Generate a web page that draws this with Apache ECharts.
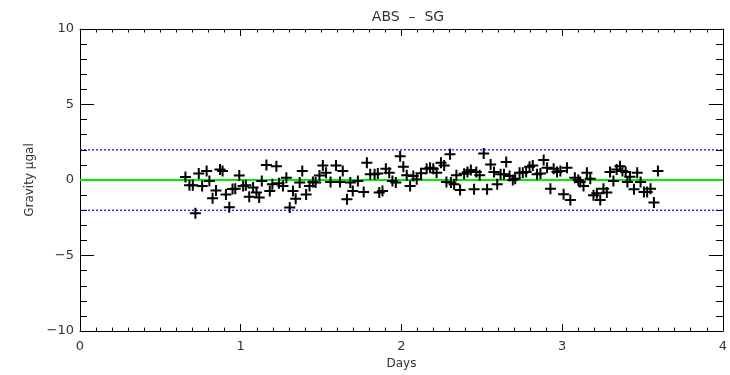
<!DOCTYPE html>
<html>
<head>
<meta charset="utf-8">
<script src="https://cdn.jsdelivr.net/npm/echarts@6/dist/echarts.min.js"></script>
<style>
  html, body { margin: 0; padding: 0; background: #fff; }
  #box { width: 730px; height: 375px; }
</style>
</head>
<body>
<div id="box"></div>
<script>
// ▼ data
const aDays = [
  0.656, 0.681, 0.702, 0.718, 0.739, 0.760, 0.788, 0.805, 0.825, 0.846, 0.871, 0.887,
  0.908, 0.929, 0.949, 0.966, 0.991, 1.015, 1.032, 1.053, 1.077, 1.098, 1.115, 1.131,
  1.160, 1.181, 1.197, 1.222, 1.238, 1.263, 1.284, 1.305, 1.325, 1.342, 1.367, 1.383,
  1.407, 1.428, 1.449, 1.466, 1.490, 1.511, 1.531, 1.559, 1.593, 1.618, 1.635, 1.661,
  1.682, 1.697, 1.729, 1.765, 1.785, 1.806, 1.833, 1.853, 1.862, 1.882, 1.903, 1.924,
  1.944, 1.965, 1.992, 2.012, 2.033, 2.054, 2.074, 2.095, 2.122,
  2.157, 2.178, 2.198, 2.219, 2.246, 2.266, 2.280, 2.302, 2.308, 2.328, 2.342, 2.365,
  2.390, 2.411, 2.432, 2.452, 2.466, 2.487, 2.512, 2.533, 2.555, 2.576, 2.596, 2.617,
  2.638, 2.652, 2.673, 2.693, 2.708, 2.735, 2.755, 2.776, 2.797, 2.817, 2.844, 2.865,
  2.885, 2.906, 2.927, 2.947, 2.968, 2.989, 3.009, 3.030, 3.051, 3.079, 3.100, 3.113,
  3.133, 3.154, 3.175, 3.195, 3.216, 3.237, 3.257, 3.278, 3.298, 3.319, 3.339, 3.360,
  3.375, 3.395, 3.406, 3.422, 3.447, 3.467, 3.488, 3.509, 3.529, 3.550, 3.571, 3.596
];
const aGravity = [
  0.20, -0.35, -0.35, -2.20, 0.44, -0.40, 0.60, -0.07, -1.20, -0.70, 0.70, 0.60,
  -0.95, -1.80, -0.60, -0.57, 0.30, -0.40, -0.35, -1.10, -0.50, -0.83, -1.16, -0.07,
  1.00, -0.72, -0.28, 0.92, -0.22, -0.40, 0.16, -1.82, -0.72, -1.23, -0.17, 0.60,
  -0.95, -0.40, -0.13, -0.17, 0.30, 0.97, 0.49, -0.13, 0.97, -0.13, 0.60, -1.27,
  -0.17, -0.72, -0.07, -0.79, 1.15, 0.38, 0.38, 0.44, -0.83, -0.72, 0.75, 0.49,
  -0.07, -0.17, 1.58, 0.88, 0.31, -0.40, 0.26, 0.05, 0.45,
  0.75, 0.82, 0.75, 0.49, 1.15, 0.97, -0.13, 1.70, -0.17, -0.28, 0.31, -0.66,
  0.42, 0.53, 0.66, -0.61, 0.53, 0.31, 1.76, -0.61, 1.03, 0.53, -0.28, 0.38,
  0.38, 1.19, 0.26, 0.00, 0.09, 0.49, 0.49, 0.53, 0.88, 0.97, 0.38, 0.44,
  1.32, 0.82, -0.57, 0.75, 0.53, 0.60, -0.94, 0.82, -1.32, 0.16, 0.00, -0.13,
  -0.40, 0.49, 0.09, -1.00, -0.88, -1.32, -0.57, -0.83, 0.53, -0.07, 0.70, 0.92,
  0.60, 0.53, -0.13, 0.22, -0.61, 0.49, -0.13, -0.79, -0.79, -0.57, -1.49, 0.60
];
const aZeroLine = [0];
const aLimits = [2, -2];
const aXRange = [0, 4];

const sFont = 'DejaVu Sans';
const sPlus = 'path://M4.5,0H6.5V4.5H11V6.5H6.5V11H4.5V6.5H0V4.5H4.5Z';

function makeXAxis(position, bShowLabel){
    return {
        type: 'value', position,
        min: 0, max: 4, interval: 1,
        name: bShowLabel ? 'Days' : '',
        nameLocation: 'middle', nameGap: 24,
        nameTextStyle: { fontFamily: sFont, fontSize: 12, color: '#333' },
        axisLine: { show: true, onZero: false, lineStyle: { color: '#000', width: 1 } },
        axisTick: { show: true, inside: true, length: 7, lineStyle: { color: '#000' } },
        minorTick: { show: true, splitNumber: 10, length: 3.5, lineStyle: { color: '#000' } },
        axisLabel: { show: bShowLabel, margin: 9, fontFamily: sFont, fontSize: 13, color: '#333' },
        splitLine: { show: false },
    };
}
function makeYAxis(position, bShowLabel){
    return {
        type: 'value', position,
        min: -10, max: 10, interval: 5,
        name: bShowLabel ? 'Gravity μgal' : '',
        nameLocation: 'middle', nameGap: 42,
        nameTextStyle: { fontFamily: sFont, fontSize: 12, color: '#333' },
        axisLine: { show: true, onZero: false, lineStyle: { color: '#000', width: 1 } },
        axisTick: { show: true, inside: true, length: 14, lineStyle: { color: '#000' } },
        minorTick: { show: true, splitNumber: 5, length: 7, lineStyle: { color: '#000' } },
        axisLabel: {
            show: bShowLabel, margin: 6, fontFamily: sFont, fontSize: 13, color: '#333',
            formatter: v => String(v).replace('-', '−'),
        },
        splitLine: { show: false },
    };
}

const aScatter = aDays.map((cur, idx) => [cur, aGravity[idx]]);

const option = {
    animation: false,
    title: {
        text: 'ABS  –  SG', left: 403, top: 5, textAlign: 'center',
        textStyle: { fontFamily: sFont, fontSize: 14, fontWeight: 'normal', color: '#333' },
    },
    grid: { left: 80, right: 4, top: 29, bottom: 42.5 },
    xAxis: [makeXAxis('bottom', true), makeXAxis('top', false)],
    yAxis: [makeYAxis('left', true), makeYAxis('right', false)],
    series: [
        ...aLimits.map(lv => ({
            type: 'line', symbol: 'none', silent: true,
            data: aXRange.map(x => [x, lv]),
            lineStyle: { color: '#0000ff', width: 1.2, type: [2, 2] },
        })),
        ...aZeroLine.map(lv => ({
            type: 'line', symbol: 'none', silent: true,
            data: aXRange.map(x => [x, lv]),
            lineStyle: { color: '#00ee00', width: 2 },
        })),
        {
            type: 'scatter', symbol: sPlus, symbolSize: 11,
            itemStyle: { color: '#000', opacity: 1 },
            data: aScatter, z: 5,
        },
    ],
};

const myChart = echarts.init(document.getElementById('box'));
myChart.setOption(option);
</script>
</body>
</html>
